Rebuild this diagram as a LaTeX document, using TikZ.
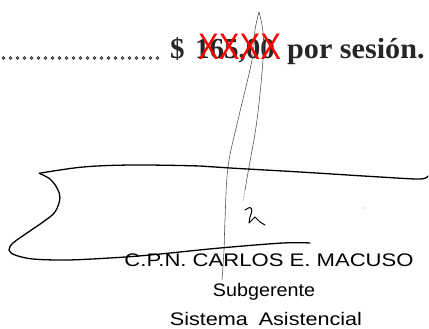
\documentclass[tikz,border=0pt]{standalone}
\usepackage{fontspec}
\setmainfont{Liberation Serif}
\newfontfamily\sansf{Liberation Sans}
\begin{document}
\begin{tikzpicture}[x=1pt,y=-1pt,
  toptext/.style={inner sep=0pt, anchor=base west, text=black!85, font=\fontsize{29}{29}\selectfont\bfseries},
  redx/.style={inner sep=0pt, anchor=base west, text=red, font=\sansf\fontsize{37}{37}\selectfont},
  namet/.style={inner sep=0pt, anchor=base, text=black, font=\sansf\fontsize{18.2}{18.2}\selectfont},
  sigstroke/.style={line width=1.3pt, line cap=round, line join=round},
  penline/.style={line width=0.55pt, black!70, line cap=round, line join=round},
  dotmark/.style={fill=black!45, draw=black!90, line width=0.5pt}]
\useasboundingbox[fill=white] (0,0) rectangle (429,329);
% dotted leader
\foreach \i in {0,...,22} \filldraw[dotmark] (3.5+7*\i,58) circle[radius=1.4pt];
% top line
\node[toptext] (dollar) at (170,59) {\$};
\node[toptext] (amount) at (195,59) {165,00};
\node[toptext] (por) at (287,59) {\scalebox{1.04}[1]{por sesión.}};
% tall pen loop
\draw[penline] plot[smooth, tension=0.6] coordinates {(222,280) (224,250) (225,220) (228,167) (238,120) (252,60) (255,30) (259,12)};
\draw[penline] plot[smooth, tension=0.6] coordinates {(259,12) (263,32) (263,60) (257,120) (249,167) (245,190)};
\draw[penline, densely dotted, black!50] (245,190) -- (243,202);
% redaction marks
\node[redx] (redact) at (198,60) {\scalebox{0.84}[1]{XXXX}};
% signature
\draw[sigstroke] plot[smooth, tension=0.55] coordinates {(39.3,173.3) (83,167) (133,165) (200,166) (230,168) (300,172) (380,177) (420,179) (428,176)};
\draw[sigstroke] plot[smooth, tension=0.55] coordinates {(39.3,173.3) (50,179) (57,188) (60,198) (55,212) (43,222) (27,233) (13,243) (9,250) (15,255) (33,259) (67,260) (110,258) (150,255) (220,248) (283,243) (310,243)};
% small "2" mark
\draw[line width=1pt, line cap=round, line join=round] plot[smooth, tension=0.5] coordinates {(245,210) (250,207.5) (252,210.5) (250,217) (249,223)} -- (255,217) -- (260,222) -- (265,225);
% specks
\fill[black!40] (363,208) circle[radius=0.6pt];
% name block
\node[namet] (name) at (269,266) {\scalebox{1.213}[1]{C.P.N. CARLOS E. MACUSO}};
\node[namet] (role) at (264,296) {\scalebox{1.084}[1]{Subgerente}};
\node[namet] (dept) at (266,325) {\scalebox{1.187}[1]{Sistema\hspace{0.5em}Asistencial}};
\end{tikzpicture}
\end{document}
